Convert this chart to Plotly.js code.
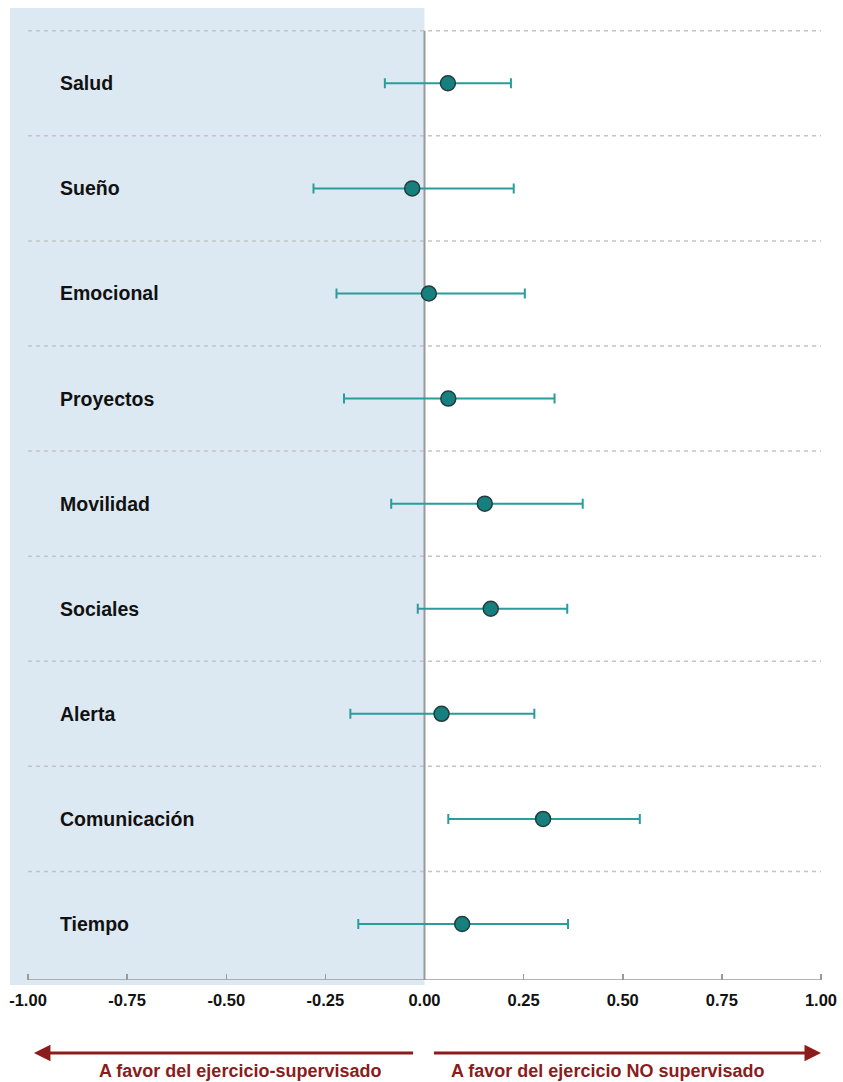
<!DOCTYPE html>
<html>
<head>
<meta charset="utf-8">
<script src="https://cdn.plot.ly/plotly-3.0.1.min.js"></script>
<style>html,body{margin:0;padding:0;background:#fff;}#chart{width:843px;height:1082px;}</style>
</head>
<body>
<div id="chart"></div>
<script>
const categories = ["Salud","Sueño","Emocional","Proyectos","Movilidad","Sociales","Alerta","Comunicación","Tiempo"];
const estimate = [0.059, -0.031, 0.011, 0.060, 0.152, 0.167, 0.043, 0.299, 0.095];
const lower    = [-0.100, -0.280, -0.222, -0.203, -0.084, -0.017, -0.187, 0.060, -0.167];
const upper    = [0.218, 0.225, 0.253, 0.328, 0.399, 0.360, 0.277, 0.543, 0.362];
const tickVals = [-1, -0.75, -0.5, -0.25, 0, 0.25, 0.5, 0.75, 1];
const tickText = ["-1.00","-0.75","-0.50","-0.25","0.00","0.25","0.50","0.75","1.00"];
const leftLabel = "A favor del ejercicio-supervisado";
const rightLabel = "A favor del ejercicio NO supervisado";

const rows = categories.map((c,i)=>i);
const xRange = [-1.0454, 1.0353];
const yRange = [8.533, -0.7165];
const W = 843, H = 1082, mL = 10, mR = 8, mT = 8, mB = 102;
const plotW = W - mL - mR, plotH = H - mT - mB;
const xToPaper = v => (v - xRange[0]) / (xRange[1] - xRange[0]);
const pyToPaper = py => (H - mB - py) / plotH;

const red = "#8c1c1c";
const font = "Liberation Sans, Arial, sans-serif";

const trace = {
  type: "scatter",
  mode: "markers",
  x: estimate,
  y: rows,
  marker: {size: 15, color: "#15807e", line: {color: "#243c3c", width: 1.5}},
  error_x: {
    type: "data", symmetric: false,
    array: upper.map((u,i)=>u - estimate[i]),
    arrayminus: lower.map((l,i)=>estimate[i] - l),
    color: "#2a9c9b", thickness: 2, width: 5
  },
  hoverinfo: "skip",
  showlegend: false
};

const shapes = [];
shapes.push({type:"rect", xref:"paper", yref:"paper", x0:0, x1:xToPaper(0), y0:pyToPaper(985), y1:1,
  fillcolor:"#dde9f2", line:{width:0}, layer:"below"});
for (let k = 0; k < categories.length; k++) {
  shapes.push({type:"line", xref:"x", yref:"y", x0:-1, x1:1, y0:k-0.5, y1:k-0.5,
    line:{color:"#c4c4c4", width:1.5, dash:"4px,4px"}, layer:"below"});
}
shapes.push({type:"line", xref:"x", yref:"y", x0:0, x1:0, y0:-0.5, y1:yRange[0],
  line:{color:"#9a9a9a", width:2}, layer:"below"});
shapes.push({type:"line", xref:"x", yref:"y", x0:-1, x1:1, y0:yRange[0], y1:yRange[0],
  line:{color:"#9a9a9a", width:1.5}});

const annotations = categories.map((c,i)=>({
  xref:"paper", yref:"y", x:(58 - mL)/plotW, y:i, xanchor:"left", yanchor:"middle",
  text:"<b>"+c+"</b>", showarrow:false, font:{family:font, size:19.5, color:"#111"}
}));
const arrowY = pyToPaper(1053);
annotations.push({xref:"x", yref:"paper", x:-0.985, y:arrowY, axref:"x", ayref:"pixel", ax:-0.025, ay:0,
  text:"", showarrow:true, arrowhead:2, arrowsize:1.1, arrowwidth:3, arrowcolor:red});
annotations.push({xref:"x", yref:"paper", x:1.0, y:arrowY, axref:"x", ayref:"pixel", ax:0.02, ay:0,
  text:"", showarrow:true, arrowhead:2, arrowsize:1.1, arrowwidth:3, arrowcolor:red});
annotations.push({xref:"x", yref:"paper", x:-0.465, y:pyToPaper(1071), xanchor:"center", yanchor:"middle",
  text:"<b>"+leftLabel+"</b>", showarrow:false, font:{family:font, size:18, color:red}});
annotations.push({xref:"x", yref:"paper", x:0.462, y:pyToPaper(1071), xanchor:"center", yanchor:"middle",
  text:"<b>"+rightLabel+"</b>", showarrow:false, font:{family:font, size:18, color:red}});

const layout = {
  width: W, height: H,
  margin: {l:mL, r:mR, t:mT, b:mB},
  paper_bgcolor: "#ffffff", plot_bgcolor: "rgba(0,0,0,0)",
  showlegend: false,
  xaxis: {range: xRange, tickvals: tickVals, ticktext: tickText, showgrid:false, zeroline:false,
    showline:false, ticks:"inside", ticklen:6, tickwidth:1.5, tickcolor:"#9a9a9a",
    tickfont:{family:font, size:16.5, color:"#111", weight:"bold"}, ticklabelstandoff: 8, fixedrange:true},
  yaxis: {range: yRange, showgrid:false, zeroline:false, showline:false, showticklabels:false,
    ticks:"", fixedrange:true},
  shapes: shapes,
  annotations: annotations
};

Plotly.newPlot("chart", [trace], layout, {displayModeBar:false, staticPlot:true});
</script>
</body>
</html>
